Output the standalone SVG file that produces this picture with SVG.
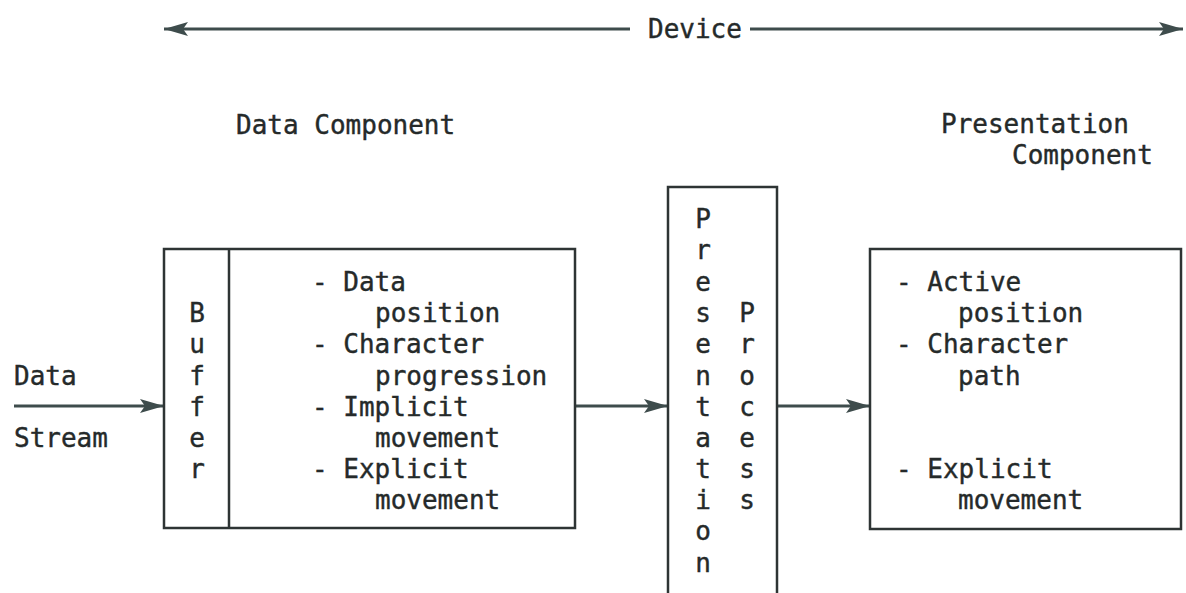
<svg xmlns="http://www.w3.org/2000/svg" width="1186" height="593" viewBox="0 0 1186 593">
<defs>
<style>
text{font-family:"DejaVu Sans Mono","Liberation Mono",monospace;font-size:26px;fill:#252a2a;stroke:#252a2a;stroke-width:0.4}
.c{text-anchor:middle}
.box{fill:none;stroke:#2e3434;stroke-width:2.5}
.ln{stroke:#3e4c4c;stroke-width:3;fill:none}
</style>
<marker id="ah" viewBox="0 0 24 14" refX="24" refY="7" markerWidth="24" markerHeight="14" markerUnits="userSpaceOnUse" orient="auto-start-reverse">
<path d="M0,0 L24,7 L0,14 L5,7 Z" fill="#3e4c4c"/>
</marker>
</defs>
<rect width="1186" height="593" fill="#fff"/>
<g id="connectors">
<line class="ln" x1="164" y1="29" x2="630" y2="29" marker-start="url(#ah)"/>
<line class="ln" x1="750" y1="29" x2="1183" y2="29" marker-end="url(#ah)"/>
<line class="ln" x1="14" y1="406" x2="164" y2="406" marker-end="url(#ah)"/>
<line class="ln" x1="575" y1="406" x2="668" y2="406" marker-end="url(#ah)"/>
<line class="ln" x1="777" y1="406" x2="870" y2="406" marker-end="url(#ah)"/>
</g>
<g id="device-label"><text x="648" y="38">Device</text></g>
<g id="data-component-label"><text x="236" y="134">Data Component</text></g>
<g id="presentation-component-label">
<text x="941" y="133">Presentation</text>
<text x="1012" y="164">Component</text>
</g>
<g id="data-stream-label">
<text x="14" y="385">Data</text>
<text x="14" y="447">Stream</text>
</g>
<g id="data-component">
<rect class="box" x="164" y="249" width="411" height="279"/>
<line class="box" x1="229" y1="249" x2="229" y2="528"/>
<text class="c" x="197" y="322">B</text>
<text class="c" x="197" y="353">u</text>
<text class="c" x="197" y="385">f</text>
<text class="c" x="197" y="416">f</text>
<text class="c" x="197" y="447">e</text>
<text class="c" x="197" y="478">r</text>
<text x="312" y="291">- Data</text>
<text x="375" y="322">position</text>
<text x="312" y="353">- Character</text>
<text x="375" y="385">progression</text>
<text x="312" y="416">- Implicit</text>
<text x="375" y="447">movement</text>
<text x="312" y="478">- Explicit</text>
<text x="375" y="509">movement</text>
</g>
<g id="presentation-process">
<rect class="box" x="668" y="187" width="109" height="410"/>
<text class="c" x="703" y="228">P</text>
<text class="c" x="703" y="259">r</text>
<text class="c" x="703" y="291">e</text>
<text class="c" x="703" y="322">s</text>
<text class="c" x="703" y="353">e</text>
<text class="c" x="703" y="385">n</text>
<text class="c" x="703" y="416">t</text>
<text class="c" x="703" y="447">a</text>
<text class="c" x="703" y="478">t</text>
<text class="c" x="703" y="509">i</text>
<text class="c" x="703" y="540">o</text>
<text class="c" x="703" y="572">n</text>
<text class="c" x="747" y="322">P</text>
<text class="c" x="747" y="353">r</text>
<text class="c" x="747" y="385">o</text>
<text class="c" x="747" y="416">c</text>
<text class="c" x="747" y="447">e</text>
<text class="c" x="747" y="478">s</text>
<text class="c" x="747" y="509">s</text>
</g>
<g id="presentation-component">
<rect class="box" x="870" y="249" width="311" height="280"/>
<text x="896" y="291">- Active</text>
<text x="958" y="322">position</text>
<text x="896" y="353">- Character</text>
<text x="958" y="385">path</text>
<text x="896" y="478">- Explicit</text>
<text x="958" y="509">movement</text>
</g>
</svg>
